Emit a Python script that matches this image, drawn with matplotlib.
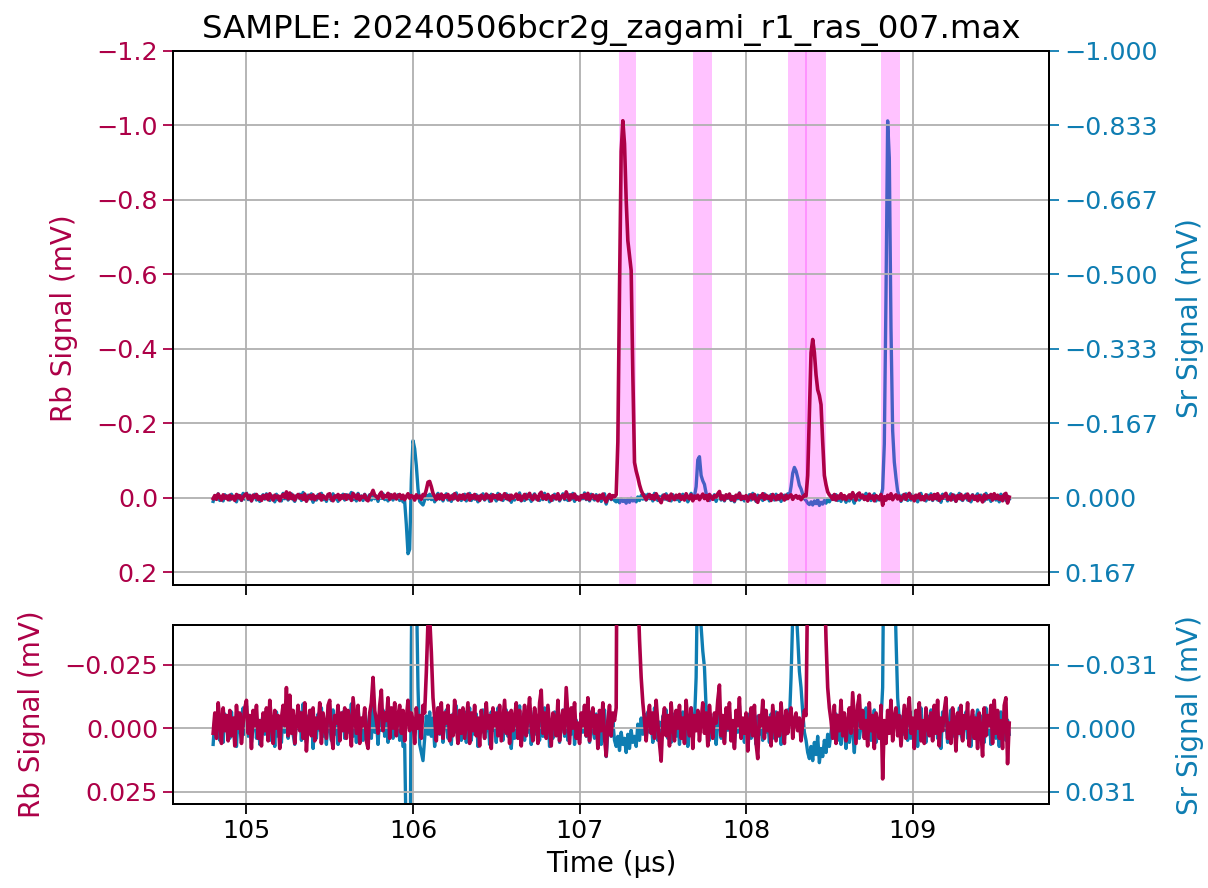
import numpy as np
import matplotlib
matplotlib.use("Agg")
import matplotlib.pyplot as plt
from matplotlib.ticker import FixedLocator, FuncFormatter

# ---------------- data ----------------
title_text = "SAMPLE: 20240506bcr2g_zagami_r1_ras_007.max"
t_start_us = 104.80
t_step_us = 0.01

# Rb signal in microvolts (one row = 0.1 us)
rb_uV = [
    2, -6, 4, -10, -3, 6, -8, 1, -5, 5,
    -7, 3, -4, 7, -9, 0, -6, 6, -2, -8,
    -11, 2, -5, 8, -7, -1, -9, 4, -3, 7,
    -6, 1, -8, 5, -11, -2, 6, -7, 0, -5,
    8, -4, -9, -1, -16, 3, -13, 2, -7, 6,
    -3, -9, 1, -6, 4, -10, 9, -2, -7, 3,
    -8, 5, -4, 0, -10, 6, -6, -1, 4, -9,
    -11, 3, 8, -5, -2, -9, 5, -6, 1, -8,
    4, -7, -3, 7, -12, -5, 2, -9, 6, -4,
    -1, -8, 5, 8, -6, -10, -20, -7, -3, 2,
    -9, -15, 1, -6, -3, -12, 4, -8, 0, -10,
    3, -5, -9, 2, -7, 5, -4, -11, 1, -6,
    -3, 6, -8, 0, -5, 4, -9, -6, -22, -42,
    -44, -30, -12, -4, 5, -8, 2, -10, 4, -6,
    -2, -9, 5, -5, 3, -11, -1, 6, -7, 2,
    -8, 4, -3, -10, 6, -6, 1, -9, 3, -4,
    7, -7, -2, 4, -10, 0, -5, 8, -8, -1,
    -6, 3, -9, 5, -3, -11, 2, -6, 6, -7,
    1, -4, -10, 4, -7, 7, -2, -9, 3, -5,
    -12, 0, 5, -8, -3, 6, -10, -15, 2, -6,
    4, -9, -1, 7, -6, -4, 3, -11, 5, -3,
    -7, 2, -16, -5, 6, -8, 0, -10, 4, -2,
    6, -6, -1, -9, 3, -12, 5, -4, -8, 2,
    -5, 8, -7, 1, -10, 4, 11, -3, -9, 3,
    -6, -3, -8, -150, -560, -930, -1012, -950, -800, -690,
    -650, -610, -330, -95, -72, -55, -35, -20, -10, -3,
    5, -4, -9, 2, -6, 4, -11, -2, 6, 13,
    -3, -8, 3, -5, 7, -10, -1, 5, -7, 0,
    -9, 4, -4, 6, -11, -2, 3, -8, 8, -5,
    1, -7, 5, -3, -10, 2, -6, 7, -9, -1,
    4, -6, -2, -11, -17, 3, -5, 6, -8, 0,
    -10, 5, -3, 8, -7, -1, -12, 4, -4, 2,
    -6, 9, -2, -8, 3, -9, 6, 12, -5, -1,
    -11, 4, -7, 1, -4, 7, -9, -2, 5, -6,
    3, -10, -1, 6, -7, 2, -5, -8, 4, -3,
    -6, 1, -4, 5, -2, -7, -5, -60, -230, -390,
    -425, -390, -330, -290, -275, -250, -150, -60, -35, -16,
    -8, -3, 4, -9, 6, -5, 1, -11, 3, -6,
    5, -2, -8, 2, -14, -4, 6, -9, -13, 0,
    -7, 4, -3, 7, -10, 1, -5, 8, -6, -2,
    4, -9, 20, -3, 6, -7, 2, -11, 5, -4,
    -8, 3, -5, 7, -1, -9, 4, -6, -12, 2,
    -4, 8, -7, 0, -10, 5, -3, 6, -8, -1,
    3, -6, 5, -9, 2, -11, 7, -4, 1, -7,
    -12, 4, -2, 6, -8, -3, 9, -6, 2, -9,
    5, -5, 0, -10, 7, -2, -7, 4, -4, 8,
    -6, 1, 11, -8, 3, -5, -1, -9, 6, -11,
    2, -7, 4, -3, 8, -9, -12, 14, -2,
]

# Sr signal in microvolts (one row = 0.1 us)
sr_uV = [
    8, -5, 3, -9, 6, -2, 7, -7, 1, -4,
    5, -8, 2, -3, 9, -6, 0, 6, -10, 3,
    -11, 4, -6, 7, -1, -8, 5, -4, 8, -2,
    -7, 3, -9, 1, 6, -5, -2, 9, -8, 4,
    -3, 7, -10, 2, -6, 5, -1, -9, 3, 8,
    -5, 0, -8, 6, -12, -4, 7, -6, 2, -9,
    10, -3, 5, -7, 1, -10, 4, -2, 8, -6,
    -1, 6, -9, 3, -5, 8, -4, 0, -8, 5,
    -7, 2, -3, -12, 4, -6, 7, -10, 1, -4,
    6, -8, 3, -1, -7, 5, -11, 2, -4, 8,
    -6, 1, -9, 4, -3, 7, -8, -2, 5, -5,
    2, -7, 6, -4, 9, 8, 60, 125, 115, -40,
    -128, -110, -72, -20, 8, 12, 16, 5, -6, 3,
    -8, 4, -5, 9, -2, -10, 3, -6, 7, -3,
    -9, 5, -1, 8, -7, 2, -11, 4, -4, 6,
    0, -8, 7, -3, -10, 6, -5, 3, -7, 9,
    -4, 2, -9, 5, -1, -6, 8, -8, 1, -3,
    7, -10, 3, -5, 6, -2, -9, 4, -6, 10,
    -2, 5, -7, 1, -11, 7, -3, 6, -8, 2,
    -5, 8, -4, -9, 3, -1, 6, -7, 4, -10,
    1, -6, 9, -3, 5, -8, 2, -5, 7, -1,
    -9, 4, -2, 6, -7, 3, -10, 8, -4, 0,
    6, -5, 2, -11, 4, -3, 7, -8, 1, 5,
    -7, 3, -4, 8, -1, -9, 14, 2, -6, 4,
    -3, 6, 9, 4, 11, 2, 8, 5, 12, 3,
    10, 1, 7, 4, 9, -2, 6, -5, 3, -7,
    5, -8, 2, -4, 7, -10, 1, 6, -3, 8,
    -6, 3, -9, 5, -2, 7, -7, 0, 4, -5,
    8, -3, -8, 2, -6, 9, -1, -10, 4, -3,
    -25, -85, -92, -50, -38, -30, -10, -2, 6, -4,
    3, -7, 8, -2, -9, 5, -4, 7, -6, 1,
    -8, 6, -3, 9, -5, 2, -11, 4, -1, 7,
    -4, 3, -7, 5, -10, 1, 8, -6, 3, -2,
    6, -9, 2, -4, 7, -7, 0, 5, -8, 4,
    -5, 8, -1, -6, 3, -9, -3, -25, -55, -68,
    -60, -45, -28, -20, -8, 2, 6, 12, 15, 9,
    16, 7, 13, 4, 17, 10, 14, 6, 12, 3,
    9, 2, -5, 4, -7, 6, -2, 8, -4, 1,
    10, -3, 7, -6, 2, 12, -4, -8, 5, -1,
    -6, 4, -10, 3, -7, 6, -2, -9, 7, -3,
    5, -3, -20, -120, -450, -843, -760, -380, -150, -80,
    -45, -15, -4, 8, -6, 3, -9, 6, -2, 5,
    -8, 2, -5, 9, -3, -10, 4, -1, 7, -6,
    3, -9, 6, -2, -7, 5, -4, 10, -8, 1,
    -5, 7, -3, -9, 4, -6, 8, -1, -10, 3,
    6, -2, -8, 5, -4, 9, -7, 2, -3, -9,
    4, -6, 1, 7, -10, 3, -5, 8, -2, -7,
    5, -3, 9, -8, 2, -5, 6, -4, 3,
]

# highlighted peak windows (us)
span_starts_us = [107.239, 107.680, 108.249, 108.354, 108.809]
span_ends_us = [107.340, 107.795, 108.366, 108.481, 108.924]

x_ticks = [105, 106, 107, 108, 109]
rb_ticks_top = [-1.2, -1.0, -0.8, -0.6, -0.4, -0.2, 0.0, 0.2]
sr_ticks_top = [-6 / 6, -5 / 6, -4 / 6, -3 / 6, -2 / 6, -1 / 6, 0.0, 1 / 6]
rb_ticks_bot = [-0.025, 0.0, 0.025]
sr_ticks_bot = [-0.03125, 0.0, 0.03125]

rb_lim_top = (0.234, -1.2)
sr_lim_top = (0.234 / 1.2, -1.0)
rb_lim_bot = (0.0300, -0.0407)
sr_lim_bot = (0.0300 * 1.25, -0.0407 * 1.25)

# ---------------- style ----------------
RB_COLOR = "#AD0047"
SR_COLOR = "#0E7DB2"
SPAN_COLOR = "#FF00FF"
TICK_FS = 18.3
LABEL_FS = 20
TITLE_FS = 23.3

plt.rcParams["font.family"] = ["DejaVu Sans"]
plt.rcParams["axes.linewidth"] = 1.4

t = t_start_us + t_step_us * np.arange(len(rb_uV))
rb = np.array(rb_uV) / 1000.0
sr = np.array(sr_uV) / 1000.0


def fmt3(v, pos):
    if abs(v) < 1e-12:
        v = 0.0
    return f"{v:.3f}".replace("-", "\u2212")


fig = plt.figure(figsize=(12.08, 8.88), dpi=100)
L, R = 0.1435, 0.8684
ax_top = fig.add_axes([L, 0.3412, R - L, 0.9429 - 0.3412])
ax_bot = fig.add_axes([L, 0.0943, R - L, 0.2962 - 0.0943], sharex=ax_top)


def setup(ax_rb, rb_lim, rb_ticks, sr_lim, sr_ticks, with_spans):
    ax_sr = ax_rb.twinx()
    ax_rb.set_zorder(ax_sr.get_zorder() + 1)
    ax_rb.patch.set_visible(False)
    ax_sr.plot(t, sr, color=SR_COLOR, lw=2.4, zorder=2)
    if with_spans:
        for a, b in zip(span_starts_us, span_ends_us):
            ax_sr.axvspan(a, b, color=SPAN_COLOR, alpha=0.24, lw=0, zorder=3)
    ax_rb.plot(t, rb, color=RB_COLOR, lw=2.6, zorder=3)
    ax_rb.grid(True, color="#b0b0b0", lw=1.3)
    ax_rb.set_axisbelow(True)
    ax_rb.set_ylim(*rb_lim)
    ax_sr.set_ylim(*sr_lim)
    ax_rb.yaxis.set_major_locator(FixedLocator(rb_ticks))
    ax_sr.yaxis.set_major_locator(FixedLocator(sr_ticks))
    ax_sr.yaxis.set_major_formatter(FuncFormatter(fmt3))
    ax_rb.tick_params(axis="y", colors=RB_COLOR, labelsize=TICK_FS,
                      length=7, width=1.3, pad=4)
    ax_sr.tick_params(axis="y", colors=SR_COLOR, labelsize=TICK_FS,
                      length=7, width=1.3, pad=4)
    ax_rb.tick_params(axis="x", labelsize=TICK_FS, length=7, width=1.3)
    ax_rb.set_ylabel("Rb Signal (mV)", color=RB_COLOR, fontsize=LABEL_FS,
                     labelpad=13)
    ax_sr.set_ylabel("Sr Signal (mV)", color=SR_COLOR, fontsize=LABEL_FS,
                     labelpad=13)
    return ax_sr


setup(ax_top, rb_lim_top, rb_ticks_top, sr_lim_top, sr_ticks_top, True)
setup(ax_bot, rb_lim_bot, rb_ticks_bot, sr_lim_bot, sr_ticks_bot, False)

ax_top.xaxis.set_major_locator(FixedLocator(x_ticks))
ax_top.tick_params(axis="x", labelbottom=False)
ax_top.margins(x=0.05)
ax_bot.set_xlabel("Time (\u00b5s)", fontsize=LABEL_FS, labelpad=5)
ax_top.set_title(title_text, fontsize=TITLE_FS, pad=9)

fig.savefig("out.png", dpi=100)
